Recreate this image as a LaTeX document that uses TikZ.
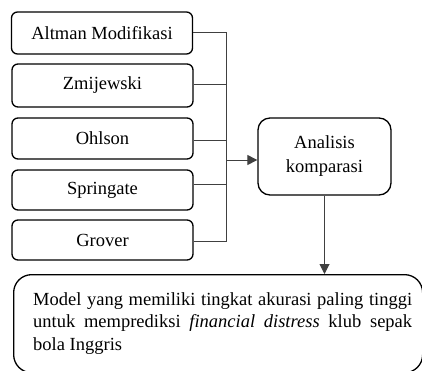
\documentclass[tikz,border=0pt]{standalone}
\usepackage{fontspec}
\setmainfont{Liberation Serif}
\usetikzlibrary{arrows.meta}
\begin{document}
\begin{tikzpicture}[x=1pt,y=-1pt,
  every node/.style={font=\fontsize{18.5}{22.5}\selectfont},
  model/.style={draw, line width=1.3pt, rounded corners=6pt, minimum width=181pt, inner sep=0pt},
  conn/.style={draw=black!75, line width=1pt},
  arr/.style={conn, -{Triangle[length=10pt,width=10pt]}}]
\useasboundingbox (0,0) rectangle (422,370);
\begin{scope}
\clip (0,0) rectangle (422,370);
\node[model, minimum height=42pt] (b1) at (102,33) {Altman Modifikasi};
\node[model, minimum height=43pt] (b2) at (102.5,85.5) {Zmijewski};
\node[model, minimum height=41pt] (b3) at (102.5,138.5) {Ohlson};
\node[model, minimum height=40pt] (b4) at (102.5,190) {Springate};
\node[model, minimum height=40pt] (b5) at (102.5,240) {Grover};
\node[draw, line width=1.3pt, rounded corners=12pt, minimum width=133pt, minimum height=77pt, align=center, inner sep=0pt, font=\fontsize{18.5}{24}\selectfont] (ana) at (324.5,156.5) {Analisis\\komparasi};
\node[draw, line width=1.3pt, rounded corners=18pt, minimum width=409pt, minimum height=98pt, anchor=north west, inner sep=0pt] (res) at (13,274) {};
\node[text width=379pt, align=justify, anchor=base west, inner sep=0pt] (restext) at (33,305)
  {Model yang memiliki tingkat akurasi paling tinggi\linebreak untuk memprediksi \textit{financial distress} klub sepak\linebreak bola Inggris};
\coordinate (bustop) at (226,32);
\coordinate (busbot) at (226,241);
\coordinate (busmid) at (226,160);
\draw[conn] (b1.east |- bustop) -- (bustop) -- (busbot) -- (b5.east |- busbot);
\draw[conn] ([yshift=1.5pt]b2.east) -- ([yshift=1.5pt]b2.east -| bustop);
\draw[conn] ([yshift=-1.5pt]b3.east) -- ([yshift=-1.5pt]b3.east -| bustop);
\draw[conn] ([yshift=6pt]b4.east) -- ([yshift=6pt]b4.east -| bustop);
\draw[arr] (busmid) -- (busmid -| ana.west);
\draw[arr] (ana.south) -- (ana.south |- res.north);
\end{scope}
\end{tikzpicture}
\end{document}
